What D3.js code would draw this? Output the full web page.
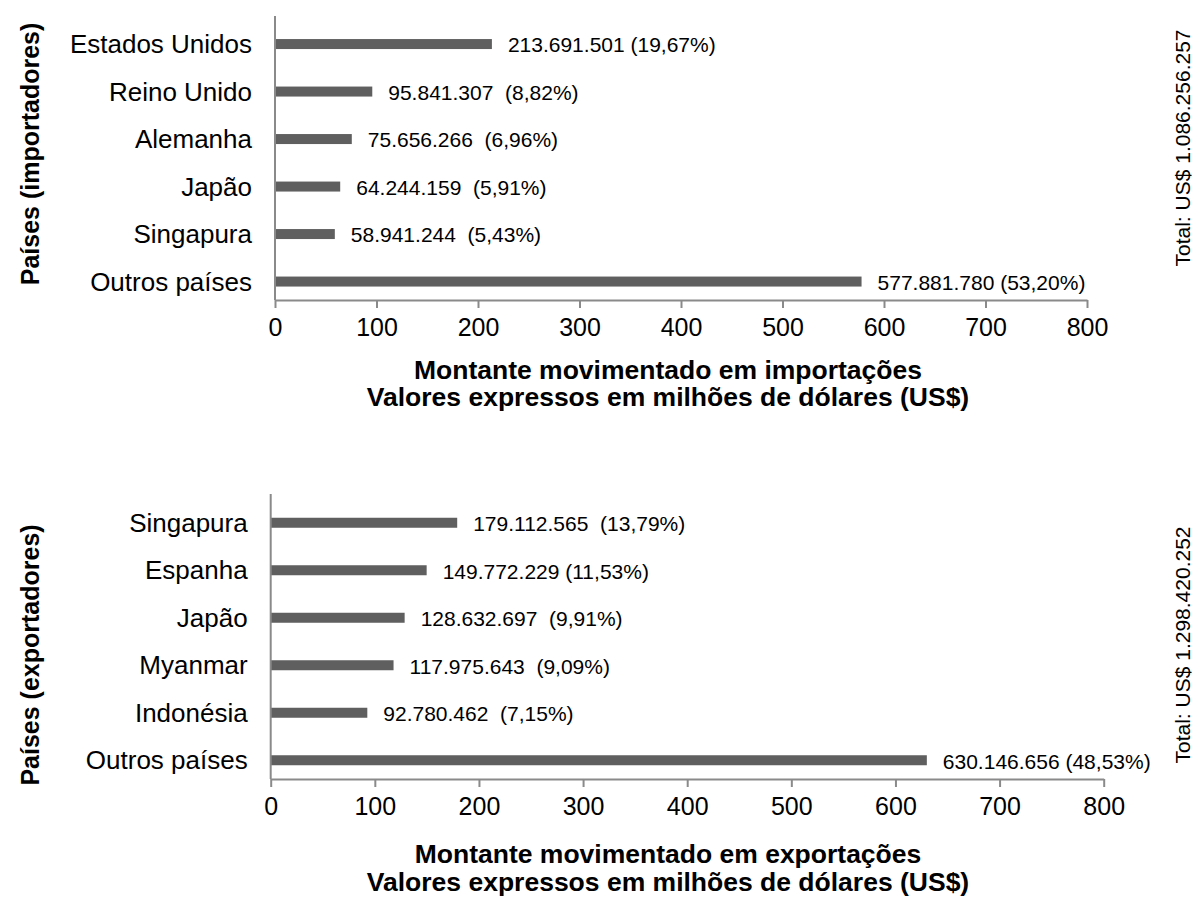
<!DOCTYPE html>
<html>
<head>
<meta charset="utf-8">
<script src="https://cdn.jsdelivr.net/npm/d3@7"></script>
<style>
  html, body { margin: 0; padding: 0; background: #fff; }
  svg { display: block; font-family: Arial, "Liberation Sans", sans-serif; }
  text { white-space: pre; }
</style>
</head>
<body>
<svg id="chart" width="1197" height="897"></svg>
<script>
// ---- Data ----
const importCountries = ["Estados Unidos", "Reino Unido", "Alemanha", "Japão", "Singapura", "Outros países"];
const importValues = [213.691501, 95.841307, 75.656266, 64.244159, 58.941244, 577.881780];
const importLabels = ["213.691.501 (19,67%)", "95.841.307  (8,82%)", "75.656.266  (6,96%)", "64.244.159  (5,91%)", "58.941.244  (5,43%)", "577.881.780 (53,20%)"];
const importTotal = "Total: US$ 1.086.256.257";

const exportCountries = ["Singapura", "Espanha", "Japão", "Myanmar", "Indonésia", "Outros países"];
const exportValues = [179.112565, 149.772229, 128.632697, 117.975643, 92.780462, 630.146656];
const exportLabels = ["179.112.565  (13,79%)", "149.772.229 (11,53%)", "128.632.697  (9,91%)", "117.975.643  (9,09%)", "92.780.462  (7,15%)", "630.146.656 (48,53%)"];
const exportTotal = "Total: US$ 1.298.420.252";

const xTicks = [0, 100, 200, 300, 400, 500, 600, 700, 800];
const yTitles = ["Países (importadores)", "Países (exportadores)"];
const xTitles1 = ["Montante movimentado em importações", "Montante movimentado em exportações"];
const xTitle2 = "Valores expressos em milhões de dólares (US$)";

// ---- Drawing ----
const svg = d3.select("#chart");
const barColor = "#5f5f5f";
const axisColor = "#8a8a8a";

function drawPanel(cfg) {
  const g = svg.append("g");
  const x = d3.scaleLinear().domain([0, 800]).range([cfg.x0, cfg.x1]);
  const y = d3.scaleBand().domain(cfg.cats).range([cfg.bandTop, cfg.bandBottom]);
  const barH = 10;

  // bars
  g.selectAll("rect.bar").data(cfg.values).enter().append("rect")
    .attr("x", x(0))
    .attr("y", (d, i) => y(cfg.cats[i]) + y.bandwidth() / 2 - barH / 2)
    .attr("width", d => x(d) - x(0))
    .attr("height", barH)
    .attr("fill", barColor);

  // x axis
  const xAxis = d3.axisBottom(x).tickValues(xTicks).tickSize(8).tickSizeOuter(0).tickPadding(10);
  const ax = g.append("g").attr("transform", `translate(0,${cfg.axisY})`).call(xAxis);
  ax.select(".domain").attr("stroke", axisColor).attr("stroke-width", 2);
  ax.selectAll(".tick line").attr("stroke", axisColor).attr("stroke-width", 2);
  ax.selectAll(".tick text").attr("font-size", 25).attr("fill", "#000")
    .attr("font-family", "Arial, 'Liberation Sans', sans-serif");

  // y axis line
  g.append("line")
    .attr("x1", x(0)).attr("x2", x(0))
    .attr("y1", cfg.axisTop).attr("y2", cfg.axisY)
    .attr("stroke", axisColor).attr("stroke-width", 2);

  // category labels
  g.selectAll("text.cat").data(cfg.cats).enter().append("text")
    .attr("x", x(0) - cfg.catGap)
    .attr("y", d => y(d) + y.bandwidth() / 2)
    .attr("dy", "0.35em")
    .attr("text-anchor", "end")
    .attr("font-size", 26)
    .text(d => d);

  // value labels
  g.selectAll("text.val").data(cfg.values).enter().append("text")
    .attr("x", d => x(d) + 16)
    .attr("y", (d, i) => y(cfg.cats[i]) + y.bandwidth() / 2)
    .attr("dy", "0.4em")
    .attr("font-size", 21)
    .text((d, i) => cfg.labels[i]);

  // y title
  g.append("text")
    .attr("transform", `translate(${cfg.yTitleX},${cfg.yTitleY}) rotate(-90)`)
    .attr("text-anchor", "middle")
    .attr("dy", "0.35em")
    .attr("font-size", 25)
    .attr("font-weight", "bold")
    .text(cfg.yTitle);

  // x titles
  g.append("text")
    .attr("x", cfg.titleX).attr("y", cfg.title1Y)
    .attr("text-anchor", "middle")
    .attr("font-size", 26.5).attr("font-weight", "bold")
    .text(cfg.xTitle1);
  g.append("text")
    .attr("x", cfg.titleX).attr("y", cfg.title2Y)
    .attr("text-anchor", "middle")
    .attr("font-size", 26.5).attr("font-weight", "bold")
    .text(xTitle2);

  // total
  g.append("text")
    .attr("transform", `translate(${cfg.totalX},${cfg.totalY}) rotate(-90)`)
    .attr("text-anchor", "middle")
    .attr("dy", "0.35em")
    .attr("font-size", 21)
    .text(cfg.total);
}

drawPanel({
  cats: importCountries, values: importValues, labels: importLabels,
  x0: 275, x1: 1087, bandTop: 20.3, bandBottom: 305.3, axisTop: 16, axisY: 300,
  catGap: 23, yTitle: yTitles[0], yTitleX: 30, yTitleY: 154,
  xTitle1: xTitles1[0], titleX: 668, title1Y: 379, title2Y: 406,
  total: importTotal, totalX: 1183, totalY: 148
});

drawPanel({
  cats: exportCountries, values: exportValues, labels: exportLabels,
  x0: 270.7, x1: 1103.7, bandTop: 499, bandBottom: 784, axisTop: 494, axisY: 779,
  catGap: 23, yTitle: yTitles[1], yTitleX: 30, yTitleY: 655,
  xTitle1: xTitles1[1], titleX: 668, title1Y: 863, title2Y: 891,
  total: exportTotal, totalX: 1183, totalY: 645
});
</script>
</body>
</html>
